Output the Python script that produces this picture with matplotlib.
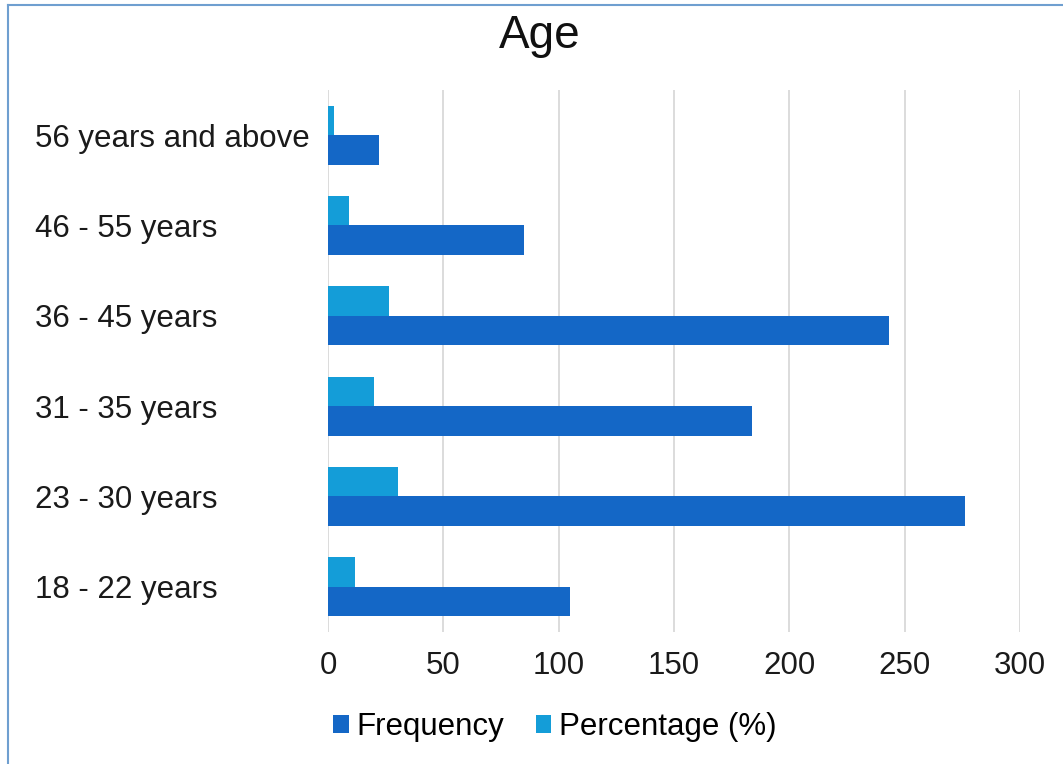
import matplotlib.pyplot as plt
import numpy as np
from matplotlib.lines import Line2D

plt.rcParams["font.family"] = ["Liberation Sans", "DejaVu Sans"]

# Data (bottom to top)
categories = ["18 - 22 years", "23 - 30 years", "31 - 35 years",
              "36 - 45 years", "46 - 55 years", "56 years and above"]
frequency = [105, 276, 184, 243, 85, 22]
percentage = [11.5, 30.2, 20.1, 26.6, 9.3, 2.4]
x_ticks = [0, 50, 100, 150, 200, 250, 300]

freq_color = "#1467C6"
pct_color = "#149DD8"

fig = plt.figure(figsize=(10.63, 7.64), dpi=100)
ax = fig.add_axes([0.3086, 0.1728, 0.651, 0.7094])

y = np.arange(len(categories))
h = 0.325
ax.barh(y - h / 2, frequency, height=h, color=freq_color, label="Frequency")
ax.barh(y + h / 2, percentage, height=h, color=pct_color, label="Percentage (%)")

ax.set_xlim(0, 300)
ax.set_ylim(-0.5, len(categories) - 0.5)
ax.set_xticks(x_ticks)
ax.set_yticks(y)
ax.set_yticklabels(categories, ha="left")
ax.tick_params(axis="both", length=0, labelsize=22.5, colors="#1a1a1a")
ax.tick_params(axis="y", pad=(328 - 35) * 0.72)
ax.tick_params(axis="x", pad=14)

ax.grid(axis="x", color="#d9d9d9", linewidth=1.3)
ax.set_axisbelow(True)
for s in ["top", "right", "bottom", "left"]:
    ax.spines[s].set_visible(False)

fig.text(540 / 1063, 1 - 36 / 764, "Age", ha="center", va="center",
         fontsize=33, color="#111111")

leg = fig.legend(loc="center", bbox_to_anchor=(555 / 1063, 1 - 727 / 764),
                 ncol=2, frameon=False, fontsize=22.5, handlelength=0.5,
                 handleheight=0.5, handletextpad=0.25, columnspacing=1.0)

# thin blue frame on top and left edges
fig.add_artist(Line2D([8 / 1063, 8 / 1063], [0, 1 - 5 / 764],
                      transform=fig.transFigure, color="#6f9fd0", linewidth=1.5))
fig.add_artist(Line2D([8 / 1063, 1], [1 - 5 / 764, 1 - 5 / 764],
                      transform=fig.transFigure, color="#6f9fd0", linewidth=1.5))

fig.savefig("out.png", dpi=100, facecolor="white")
